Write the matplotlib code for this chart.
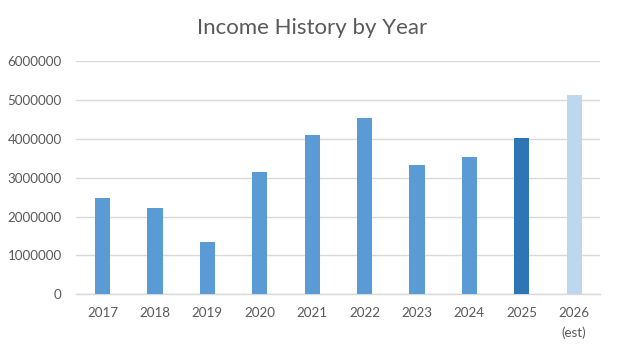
import matplotlib
matplotlib.use("Agg")
import matplotlib.pyplot as plt
from matplotlib.ticker import FuncFormatter

plt.rcParams['font.family'] = ['Lato', 'DejaVu Sans']

years = ["2017", "2018", "2019", "2020", "2021", "2022", "2023", "2024", "2025", "2026\n(est)"]
income = [2490000, 2220000, 1350000, 3160000, 4090000, 4530000, 3320000, 3530000, 4030000, 5140000]
colors = ["#5B9BD5"] * 8 + ["#2E75B6", "#BDD7EE"]
y_ticks = [0, 1000000, 2000000, 3000000, 4000000, 5000000, 6000000]

fig = plt.figure(figsize=(6.21, 3.47), dpi=100)
ax = fig.add_axes([0.1229, 0.1519, 0.8438, 0.6715])

x = range(len(years))
ax.bar(x, income, width=0.29, color=colors, zorder=3)

ax.set_xlim(-0.5, len(years) - 0.5)
ax.set_ylim(0, 6000000)
ax.set_yticks(y_ticks)
ax.yaxis.set_major_formatter(FuncFormatter(lambda v, p: f"{int(v)}"))
ax.set_xticks(list(x))
ax.set_xticklabels(years, linespacing=1.75, va='top')

ax.grid(axis='y', color='#D9D9D9', linewidth=1, zorder=0)
for s in ['top', 'right', 'left']:
    ax.spines[s].set_visible(False)
ax.spines['bottom'].set_color('#D9D9D9')
ax.spines['bottom'].set_linewidth(1)
ax.tick_params(axis='both', length=0, colors='#595959')
ax.tick_params(axis='y', pad=10.5, labelsize=9.6)
ax.tick_params(axis='x', pad=9, labelsize=9.6)

fig.text(0.503, 0.918, "Income History by Year", ha='center', va='center',
         fontsize=16, color='#595959')

fig.savefig("out.png", dpi=100)
